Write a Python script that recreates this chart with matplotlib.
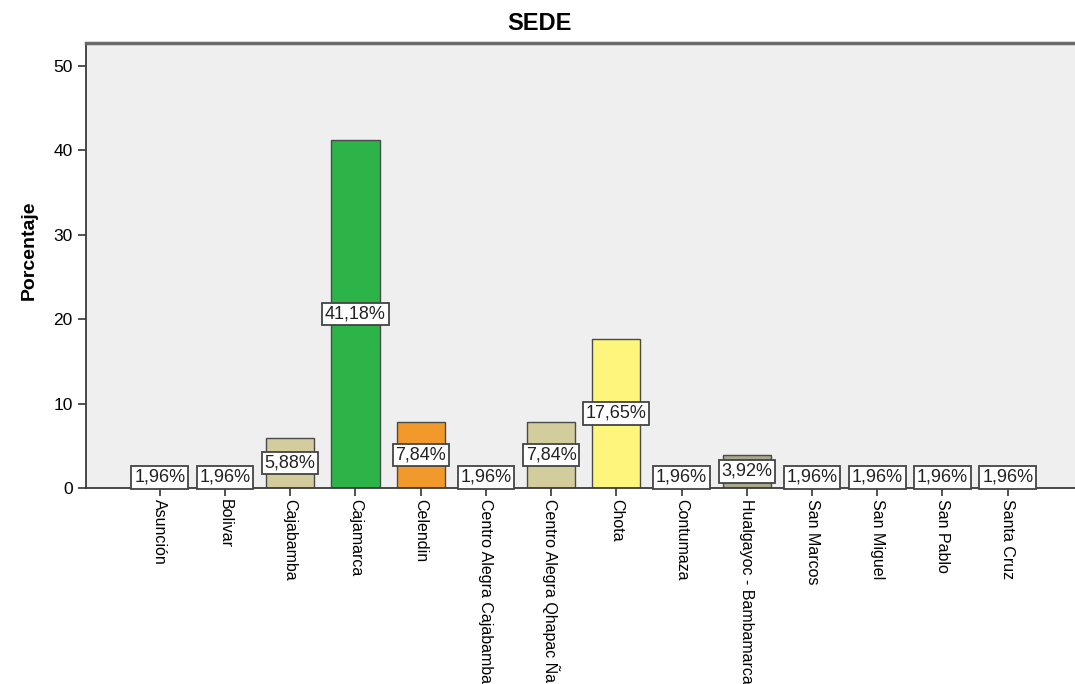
import numpy as np
import matplotlib.pyplot as plt

plt.rcParams['font.family'] = ['Liberation Sans', 'DejaVu Sans']

sedes = ['Asunción', 'Bolivar', 'Cajabamba', 'Cajamarca', 'Celendin',
         'Centro Alegra Cajabamba', 'Centro Alegra Qhapac Ña', 'Chota',
         'Contumaza', 'Hualgayoc - Bambamarca', 'San Marcos', 'San Miguel',
         'San Pablo', 'Santa Cruz']
porcentaje = [1.96, 1.96, 5.88, 41.18, 7.84, 1.96, 7.84, 17.65,
              1.96, 3.92, 1.96, 1.96, 1.96, 1.96]
colores = ['#d3cc9c', '#d3cc9c', '#d3cc9c', '#2db449', '#f2992b', '#d3cc9c',
           '#d3cc9c', '#fdf57c', '#d3cc9c', '#a9a78c', '#d3cc9c', '#d3cc9c',
           '#d3cc9c', '#d3cc9c']

fig = plt.figure(figsize=(10.75, 6.84), dpi=100)
# el eje se sale por la derecha como en la imagen original
ax = fig.add_axes([86/1075, 1 - 488/684, 1000/1075, 445/684])
ax.set_facecolor('#efefef')

x = np.arange(len(sedes))
ax.bar(x, porcentaje, width=0.74, color=colores, edgecolor='#4a4a4a',
       linewidth=1.0, zorder=2)

# etiquetas con el porcentaje a media altura de cada barra
for xi, v in zip(x, porcentaje):
    ax.text(xi, max(v / 2, 1.25), f'{v:.2f}%'.replace('.', ','), ha='center',
            va='center', fontsize=13, color='#222222', zorder=3,
            bbox=dict(boxstyle='square,pad=0.15', fc='white', ec='#444444', lw=1.3))

ax.set_xlim(-1.13, len(sedes) - 1 + 1.2)
ax.set_ylim(0, 52.7)
ax.set_yticks([0, 10, 20, 30, 40, 50])
ax.set_xticks(x)
ax.set_xticklabels(sedes, rotation=270, fontsize=11.5, va='top', ha='center')
ax.tick_params(axis='x', length=6, width=1.2, color='#333333', pad=2)
ax.tick_params(axis='y', length=6, width=1.2, color='#333333', labelsize=12.5)

for s in ['left', 'bottom']:
    ax.spines[s].set_color('#3a3a3a')
    ax.spines[s].set_linewidth(1.3)
ax.spines['top'].set_color('#6a6a6a')
ax.spines['top'].set_linewidth(2.5)
ax.spines['right'].set_visible(False)

ax.set_ylabel('Porcentaje', fontsize=14, fontweight='bold')
ax.yaxis.set_label_coords(-48/1000, (488 - 250) / 445)
fig.text(539/1075, 1 - 24/684, 'SEDE', ha='center', va='center',
         fontsize=17, fontweight='bold')

plt.savefig('out.png', dpi=100)
